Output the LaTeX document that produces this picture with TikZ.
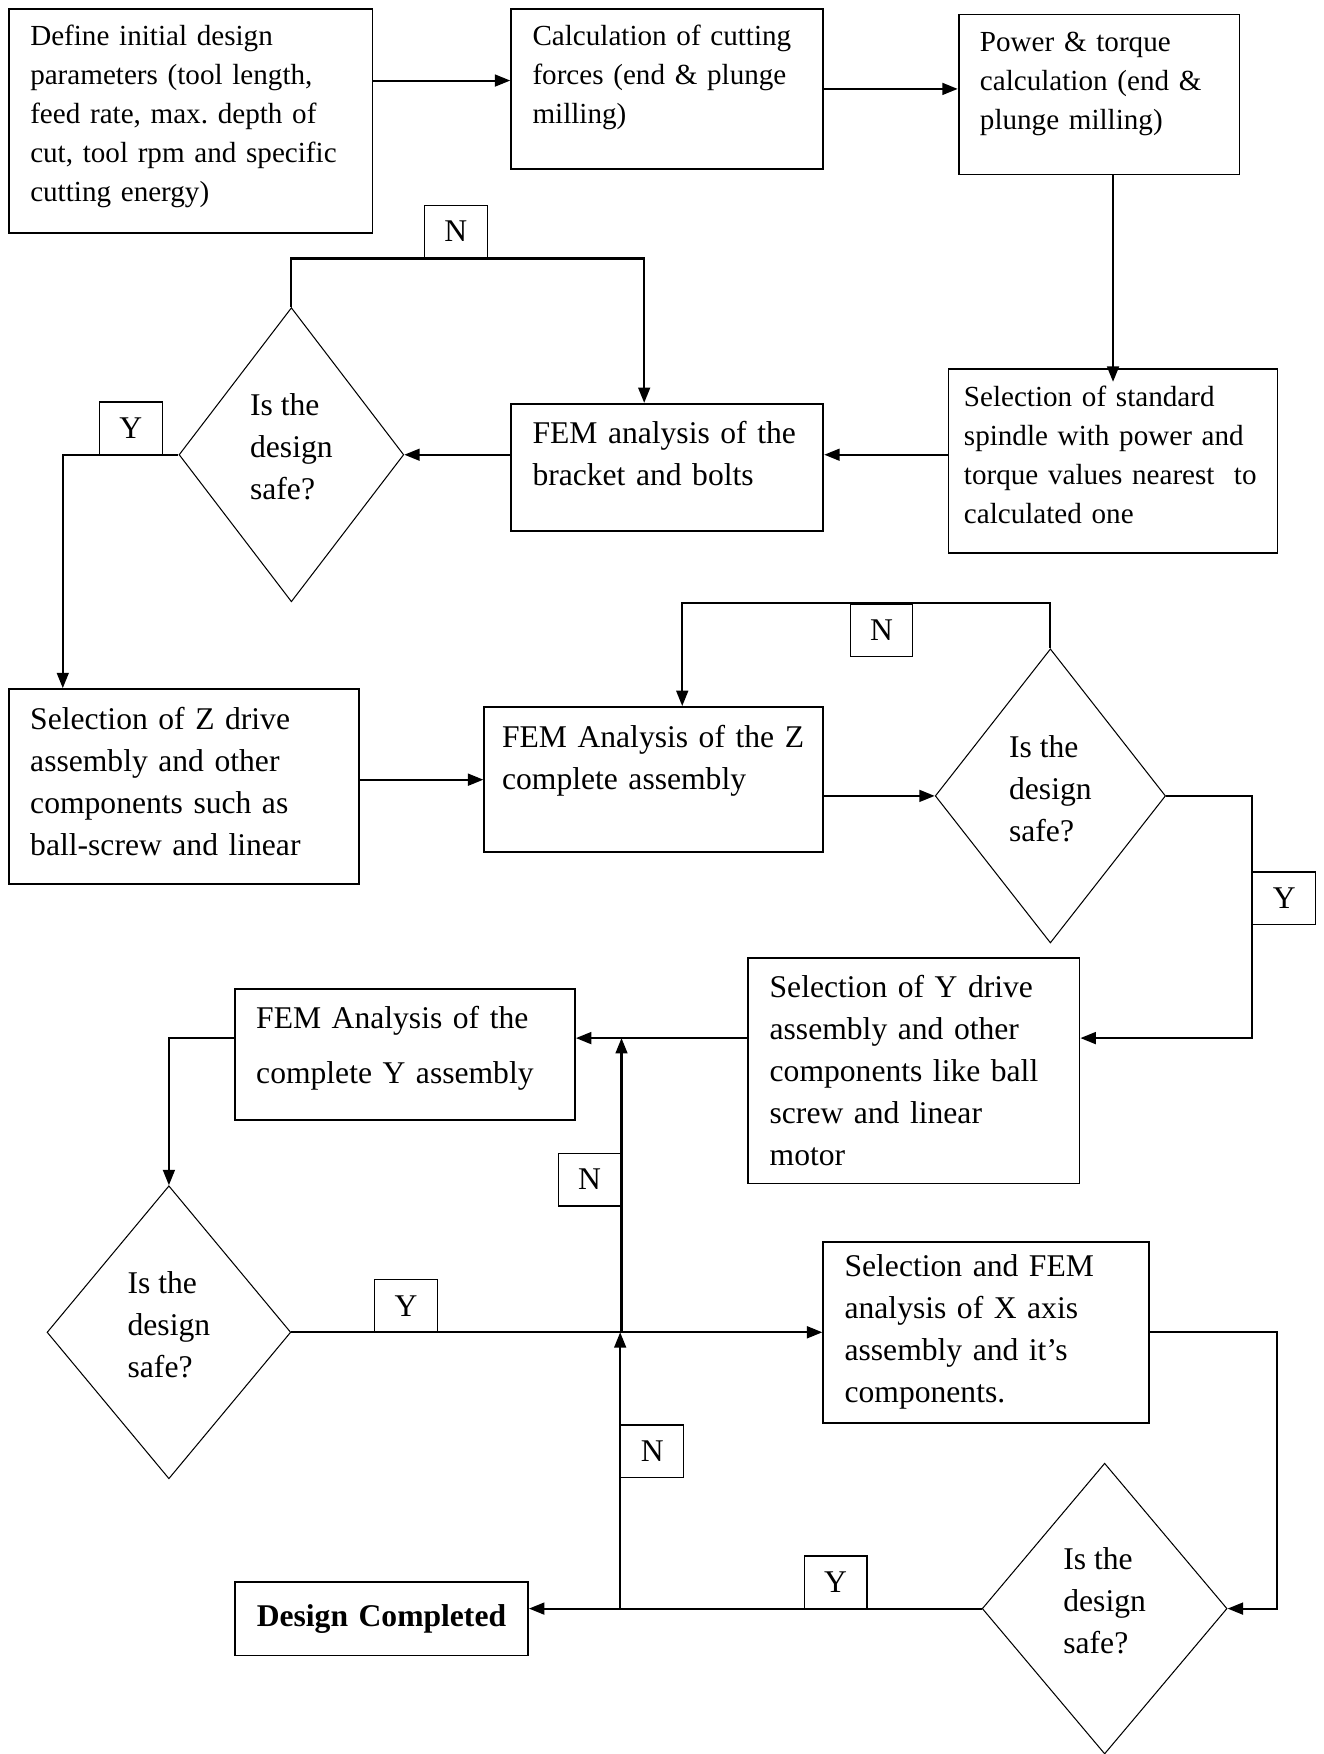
\documentclass[tikz,border=0pt]{standalone}
\usepackage{fontspec}
\setmainfont{Liberation Serif}
\usetikzlibrary{shapes.geometric,arrows.meta}
\newcommand{\topfont}{\fontsize{14}{18.8}\selectfont\frenchspacing}
\newcommand{\midfont}{\fontsize{15.2}{20.2}\selectfont\frenchspacing}
\begin{document}
\begin{tikzpicture}[x=0.0189cm, y=-0.0189cm,
  >={Triangle[length=0.26cm,width=0.2cm]},
  box/.style={draw, line width=0.9pt, rectangle, align=left,
              inner xsep=0.36cm, inner ysep=0pt},
  decision/.style={draw, line width=0.5pt, diamond, aspect=0.76,
                   inner sep=0pt, align=left, font=\midfont, text depth=7.5pt},
  tag/.style={draw, line width=0.6pt, minimum width=1.06cm,
              minimum height=0.89cm, inner sep=0pt, font=\midfont},
  flow/.style={->, line width=1pt}]
  \useasboundingbox (0,0) rectangle (1183,1568);
  \coordinate (rowY) at (0,928);
  % spindle selection
  \node[box, font=\topfont, text width=5.424cm, minimum height=3.78cm, text depth=82.5pt]
    (define) at (170.5,108)
    {Define initial design\\parameters (tool length,\\feed rate, max. depth of\\cut, tool rpm and specific\\cutting energy)};
  \node[box, font=\topfont, text width=4.555cm, minimum height=2.703cm, text depth=52pt]
    (calc) at (596.5,79.5)
    {Calculation of cutting\\forces (end \& plunge\\milling)};
  \node[box, font=\topfont, text width=4.026cm, minimum height=2.703cm, text depth=50.9pt]
    (power) at (982.5,84.5)
    {Power \& torque\\calculation (end \&\\plunge milling)};
  \node[box, font=\topfont, text width=5.04cm, inner xsep=0.26cm, minimum height=3.1cm, text depth=62.2pt]
    (spindle) at (995,412)
    {Selection of standard\\spindle with power and\\torque values nearest\ \ to\\calculated one};
  \node[box, font=\midfont, text width=4.555cm, minimum height=2.155cm, text depth=33.5pt]
    (femB) at (596.5,418)
    {FEM analysis of the\\bracket and bolts};
  \node[decision, minimum width=3.799cm, minimum height=4.971cm] (dec1) at (260.5,406.5)
    {Is the\\design\\safe?};
  \node[tag] (tagN1) at (407.5,207) {N};
  \node[tag] (tagY1) at (117,383) {Y};
  % Z axis
  \node[box, font=\midfont, text width=5.198cm, minimum height=3.289cm, text depth=65.7pt]
    (selZ) at (164.5,703)
    {Selection of Z drive\\assembly and other\\components such as\\ball-screw and linear};
  \node[box, font=\midfont, text width=5.13cm, inner xsep=0.3cm, minimum height=2.457cm, text depth=42.1pt]
    (femZ) at (584.5,697)
    {FEM Analysis of the Z\\complete assembly};
  \node[decision, minimum width=3.893cm, minimum height=4.971cm] (dec2) at (939,711.5)
    {Is the\\design\\safe?};
  \node[tag] (tagN2) at (788,563.5) {N};
  \node[tag] (tagY2) at (1148,803) {Y};
  % Y axis
  \node[box, font=\midfont, text width=4.876cm, minimum height=3.818cm]
    (selY) at (817,957)
    {Selection of Y drive\\assembly and other\\components like ball\\screw and linear\\motor};
  \node[box, font=\midfont, text width=5.027cm, minimum height=2.211cm, text depth=35.2pt]
    (femY) at (362,942.5)
    {FEM Analysis of the\\[6pt]complete Y assembly};
  \node[decision, minimum width=4.12cm, minimum height=4.952cm] (dec3) at (151,1191)
    {Is the\\design\\safe?};
  \node[tag] (tagN3) at (527,1054.5) {N};
  \node[tag] (tagY3) at (363,1167.5) {Y};
  % X axis
  \node[box, font=\midfont, text width=4.782cm, minimum height=3.062cm]
    (selX) at (881.5,1191)
    {Selection and FEM\\analysis of X axis\\assembly and it's\\components.};
  \node[decision, minimum width=4.139cm, minimum height=4.914cm] (dec4) at (987.5,1438)
    {Is the\\design\\safe?};
  \node[tag] (tagN4) at (583,1297.5) {N};
  \node[tag] (tagY4) at (747,1414.5) {Y};
  \node[box, font=\midfont, text width=4.234cm, minimum height=1.247cm, align=center]
    (done) at (341,1447) {\textbf{Design Completed}};
  % connectors
  \draw[flow] (define.east |- 0,72) -- (calc.west |- 0,72);
  \draw[flow] (calc.east) -- (calc.east -| power.west);
  \draw[flow, shorten >=-0.23cm] (power.south -| spindle.north) -- (spindle.north);
  \draw[flow] (spindle.west |- dec1) -- (femB.east |- dec1);
  \draw[flow] (femB.west |- dec1) -- (dec1.east);
  \draw[flow] (dec1.north) |- (tagN1.south) -| ([xshift=-0.39cm]femB.north);
  \draw[flow] (dec1.west) -| ([xshift=0.926cm]selZ.north west);
  \draw[flow] (selZ.east |- femZ) -- (femZ.west);
  \draw[flow] (femZ.east |- dec2) -- (dec2.west);
  \draw[flow] (dec2.north) |- (tagN2.north) -| ([xshift=0.48cm]femZ.north);
  \draw[flow] (dec2.east) -| (tagY2.west) |- (selY.east |- rowY);
  \draw[flow] (selY.west |- rowY) -- (femY.east |- rowY);
  \draw[flow] (femY.west |- rowY) -| (dec3.north);
  \draw[flow] (dec3.east) -- (selX.west);
  \draw[flow] (selX.east) -- ++(114,0) |- (dec4.east);
  \draw[flow] (dec4.west) -- (dec4.west -| done.east);
  \draw[flow] (tagN4.west |- dec4) -- (tagN4.west |- dec3);
  \draw[flow] (tagN3.east |- dec3) -- (tagN3.east |- rowY);
\end{tikzpicture}
\end{document}
